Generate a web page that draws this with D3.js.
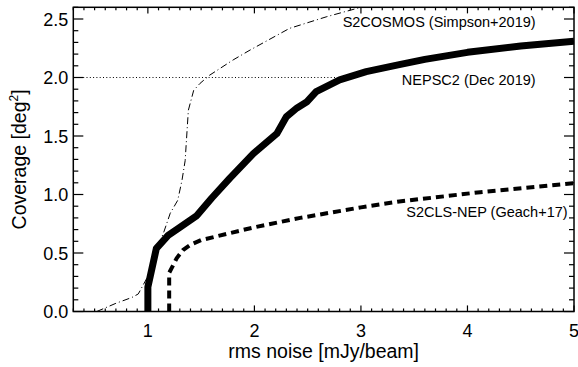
<!DOCTYPE html>
<html>
<head>
<meta charset="utf-8">
<script src="https://cdn.jsdelivr.net/npm/d3@7"></script>
<style>
  html, body { margin: 0; padding: 0; background: #fff; }
  svg { display: block; font-family: "Liberation Sans", Helvetica, Arial, sans-serif; }
</style>
</head>
<body>
<svg id="chart" width="578" height="367"></svg>
<script>
// Cumulative survey coverage versus rms noise

// NEPSC2 (Dec 2019)
const nepX = [1.0, 1.0, 1.08, 1.19, 1.3, 1.46, 1.6, 1.77, 1.99, 2.21, 2.30, 2.40, 2.49, 2.58, 2.80, 3.05, 3.36, 3.6, 4.0, 4.5, 5.0];
const nepY = [0.0, 0.21, 0.54, 0.65, 0.72, 0.82, 0.97, 1.14, 1.35, 1.52, 1.665, 1.74, 1.79, 1.88, 1.98, 2.05, 2.11, 2.155, 2.215, 2.27, 2.31];

// S2CLS-NEP (Geach+17)
const clsX = [1.2, 1.2, 1.24, 1.27, 1.33, 1.4, 1.5, 1.77, 2.0, 2.43, 3.0, 3.36, 4.12, 5.0];
const clsY = [0.0, 0.33, 0.40, 0.455, 0.525, 0.57, 0.61, 0.67, 0.72, 0.80, 0.89, 0.94, 1.02, 1.096];

// S2COSMOS (Simpson+2019)
const cosX = [0.52, 0.7, 0.85, 0.91, 1.0, 1.08, 1.15, 1.21, 1.28, 1.32, 1.35, 1.38, 1.43, 1.49, 1.58, 1.8, 1.96, 2.33, 2.68, 2.96, 3.1];
const cosY = [0.0, 0.07, 0.12, 0.15, 0.30, 0.52, 0.68, 0.84, 0.95, 1.12, 1.29, 1.72, 1.89, 1.95, 2.02, 2.15, 2.235, 2.42, 2.52, 2.59, 2.63];

// Reference level at 2 deg^2
const refLevel = 2.0;
const refEndX = 2.78;

const labels = [
  { text: "S2COSMOS (Simpson+2019)", x: 5.0 - 0.36, y: 2.43 },
  { text: "NEPSC2 (Dec 2019)",       x: 5.0 - 0.36, y: 1.935 },
  { text: "S2CLS-NEP (Geach+17)",    x: 5.0 - 0.06, y: 0.805 }
];

const xMajor = [1, 2, 3, 4, 5];
const yMajor = [0.0, 0.5, 1.0, 1.5, 2.0, 2.5];

const margin = { left: 73.3, right: 4, top: 7.3, bottom: 55.5 };
const W = 578, H = 367;
const svg = d3.select("#chart");

const x = d3.scaleLinear().domain([0.3, 5.0]).range([margin.left, W - margin.right]);
const y = d3.scaleLinear().domain([0.0, 2.6]).range([H - margin.bottom, margin.top]);

const x0 = x.range()[0], x1 = x.range()[1];
const y0 = y.range()[0], y1 = y.range()[1];
const pw = x1 - x0, ph = y0 - y1;

svg.append("defs").append("clipPath").attr("id", "plotclip")
  .append("rect").attr("x", x0).attr("y", y1).attr("width", pw).attr("height", ph);

const plot = svg.append("g").attr("clip-path", "url(#plotclip)");
const line = d3.line().x(d => x(d[0])).y(d => y(d[1]));
const zip = (a, b) => a.map((v, i) => [v, b[i]]);

// dotted 2 deg^2 reference
plot.append("path")
  .attr("d", line([[0.3, refLevel], [refEndX, refLevel]]))
  .attr("fill", "none").attr("stroke", "#000").attr("stroke-width", 1)
  .attr("stroke-dasharray", "1,2.3");

// S2COSMOS dash-dot
plot.append("path")
  .attr("d", line(zip(cosX, cosY)))
  .attr("fill", "none").attr("stroke", "#000").attr("stroke-width", 1)
  .attr("stroke-dasharray", "7,3,1,3");

// S2CLS-NEP dashed
plot.append("path")
  .attr("d", line(zip(clsX, clsY)))
  .attr("fill", "none").attr("stroke", "#000").attr("stroke-width", 4)
  .attr("stroke-dasharray", "8,5");

// NEPSC2 thick solid
plot.append("path")
  .attr("d", line(zip(nepX, nepY)))
  .attr("fill", "none").attr("stroke", "#000").attr("stroke-width", 7)
  .attr("stroke-linejoin", "round");

// Frame
svg.append("rect").attr("x", x0).attr("y", y1).attr("width", pw).attr("height", ph)
  .attr("fill", "none").attr("stroke", "#000").attr("stroke-width", 1.5);

// Tick lengths proportional to plot size
const xTickLen = 0.02 * ph, yTickLen = 0.02 * pw;
const xMinor = d3.range(3, 51).map(v => v / 10).filter(v => Math.abs(v - Math.round(v)) > 1e-6);
const yMinor = d3.range(0, 27).map(v => v / 10).filter(v => Math.abs(v * 2 - Math.round(v * 2)) > 1e-6);

const ticks = svg.append("g").attr("stroke", "#000").attr("stroke-width", 1.2);
xMajor.forEach(v => {
  ticks.append("line").attr("x1", x(v)).attr("x2", x(v)).attr("y1", y0).attr("y2", y0 - xTickLen);
  ticks.append("line").attr("x1", x(v)).attr("x2", x(v)).attr("y1", y1).attr("y2", y1 + xTickLen);
});
xMinor.forEach(v => {
  ticks.append("line").attr("x1", x(v)).attr("x2", x(v)).attr("y1", y0).attr("y2", y0 - xTickLen / 2);
  ticks.append("line").attr("x1", x(v)).attr("x2", x(v)).attr("y1", y1).attr("y2", y1 + xTickLen / 2);
});
yMajor.forEach(v => {
  ticks.append("line").attr("y1", y(v)).attr("y2", y(v)).attr("x1", x0).attr("x2", x0 + yTickLen);
  ticks.append("line").attr("y1", y(v)).attr("y2", y(v)).attr("x1", x1).attr("x2", x1 - yTickLen);
});
yMinor.forEach(v => {
  ticks.append("line").attr("y1", y(v)).attr("y2", y(v)).attr("x1", x0).attr("x2", x0 + yTickLen / 2);
  ticks.append("line").attr("y1", y(v)).attr("y2", y(v)).attr("x1", x1).attr("x2", x1 - yTickLen / 2);
});

// Tick labels
const tickFont = 18;
svg.append("g").selectAll("text").data(xMajor).join("text")
  .attr("x", d => x(d)).attr("y", y0 + 25)
  .attr("text-anchor", "middle").attr("font-size", tickFont)
  .text(d => d3.format("d")(d));
svg.append("g").selectAll("text").data(yMajor).join("text")
  .attr("x", x0 - 5).attr("y", d => y(d) + 6.5)
  .attr("text-anchor", "end").attr("font-size", tickFont)
  .text(d => d3.format(".1f")(d));

// Axis titles
svg.append("text")
  .attr("x", (x0 + x1) / 2).attr("y", 358)
  .attr("text-anchor", "middle").attr("font-size", 19.5)
  .text("rms noise [mJy/beam]");

const yt = svg.append("text")
  .attr("transform", `translate(25.5,${(y0 + y1) / 2}) rotate(-90)`)
  .attr("text-anchor", "middle").attr("font-size", 19.5);
yt.append("tspan").text("Coverage [deg");
yt.append("tspan").attr("font-size", 12).attr("dy", -8).text("2");
yt.append("tspan").attr("dy", 8).text("]");

// Curve labels
svg.append("g").selectAll("text").data(labels).join("text")
  .attr("x", d => x(d.x)).attr("y", d => y(d.y))
  .attr("text-anchor", "end").attr("font-size", 14.5)
  .text(d => d.text);
</script>
</body>
</html>
